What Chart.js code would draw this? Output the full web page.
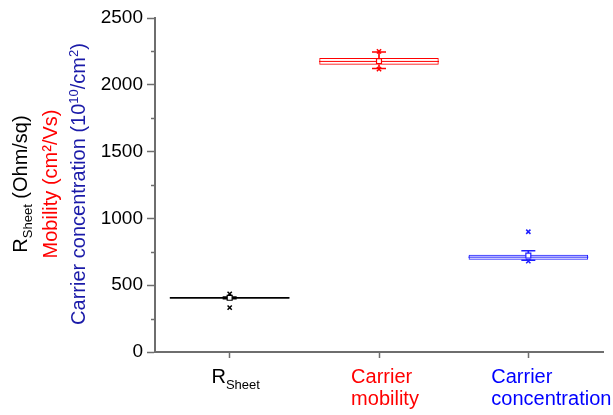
<!DOCTYPE html>
<html>
<head>
<meta charset="utf-8">
<script src="https://cdn.jsdelivr.net/npm/chart.js@4"></script>
<style>
html,body{margin:0;padding:0;background:#fff;}
#wrap{width:613px;height:415px;position:relative;}
</style>
</head>
<body>
<div id="wrap"><canvas id="c" width="613" height="415"></canvas></div>
<script>
// ---- data ----
const categories = ['R_Sheet', 'Carrier mobility', 'Carrier concentration'];
const whiskerLow  = [399, 2122, 686];
const q1          = [399, 2150, 690];
const median      = [405, 2175, 710];
const q3          = [411, 2200, 728];
const whiskerHigh = [411, 2245, 757];
const mean        = [406, 2178, 722];
const pointHigh   = [435, 2250, 900];
const pointLow    = [332, 2118, 680];
const seriesColors = ['#000000', '#ff0000', '#1f1fff'];
const labelColors  = ['#000000', '#ff0000', '#0000ff'];
const yTicks = [0, 500, 1000, 1500, 2000, 2500];

const FONT = '"Liberation Sans", Arial, sans-serif';

function drawRich(ctx, parts, x, y) {
  let pos = x;
  for (const p of parts) {
    ctx.font = p[1] + 'px ' + FONT;
    ctx.fillText(p[0], pos, y + p[2]);
    pos += ctx.measureText(p[0]).width;
  }
}
function richWidth(ctx, parts) {
  let w = 0;
  for (const p of parts) { ctx.font = p[1] + 'px ' + FONT; w += ctx.measureText(p[0]).width; }
  return w;
}

const yTitleLines = [
  {color: '#000000', parts: [['R', 20, 0], ['Sheet', 13, 5], [' (Ohm/sq)', 20, 0]]},
  {color: '#ff0000', parts: [['Mobility (cm\u00B2/Vs)', 20, 0]]},
  {color: '#1a1aa8', parts: [['Carrier concentration (10', 20, 0], ['10', 13, -7], ['/cm', 20, 0], ['2', 13, -7], [')', 20, 0]]}
];
const xLabelLines = [
  [[['R', 20, 0], ['Sheet', 13, 6]]],
  [[['Carrier', 20, 0]], [['mobility', 20, 0]]],
  [[['Carrier', 20, 0]], [['concentration', 20, 0]]]
];
const xLabelShift = [6, 6, 23];

const decor = {
  id: 'decor',
  afterDraw(chart) {
    const ctx = chart.ctx;
    const ya = chart.scales.y, xa = chart.scales.x;
    const area = chart.chartArea;
    ctx.save();
    // minor ticks
    ctx.strokeStyle = '#6e6e6e';
    ctx.lineWidth = 1.5;
    for (let i = 0; i < yTicks.length - 1; i++) {
      const v = (yTicks[i] + yTicks[i + 1]) / 2;
      const py = Math.round(ya.getPixelForValue(v)) + 0.5;
      ctx.beginPath(); ctx.moveTo(area.left - 4, py); ctx.lineTo(area.left, py); ctx.stroke();
    }
    // y title (rotated, three colours)
    ctx.textBaseline = 'alphabetic';
    ctx.textAlign = 'left';
    const baselines = [27, 57, 85];
    const cy = (area.top + area.bottom) / 2 - 1;
    yTitleLines.forEach((ln, i) => {
      ctx.save();
      ctx.translate(baselines[i], cy);
      ctx.rotate(-Math.PI / 2);
      ctx.fillStyle = ln.color;
      const w = richWidth(ctx, ln.parts);
      drawRich(ctx, ln.parts, -w / 2, 0);
      ctx.restore();
    });
    // x labels
    xLabelLines.forEach((lines, i) => {
      const px = xa.getPixelForValue(i);
      let bw = 0;
      lines.forEach(l => { bw = Math.max(bw, richWidth(ctx, l)); });
      const left = px - bw / 2 + xLabelShift[i];
      ctx.fillStyle = labelColors[i];
      lines.forEach((l, k) => drawRich(ctx, l, left, 383 + k * 22));
    });
    ctx.restore();
  }
};

const boxData = q1.map((v, i) => [v, q3[i]]);
const lowStem = whiskerLow.map((v, i) => [v, q1[i]]);
const highStem = whiskerHigh.map((v, i) => [q3[i], v]);

new Chart(document.getElementById('c'), {
  type: 'bar',
  data: {
    labels: categories,
    datasets: [
      {label: 'box', data: boxData, grouped: false, categoryPercentage: 1, barPercentage: 0.8,
       backgroundColor: 'rgba(255,255,255,0)', borderColor: seriesColors, borderWidth: 1, borderSkipped: false, order: 5},
      {label: 'stemLow', data: lowStem, grouped: false, barThickness: 1, backgroundColor: seriesColors, borderWidth: 0, order: 5},
      {label: 'stemHigh', data: highStem, grouped: false, barThickness: 1, backgroundColor: seriesColors, borderWidth: 0, order: 5},
      {type: 'line', label: 'median', data: median, showLine: false, pointStyle: 'line', pointRadius: 60,
       pointBorderColor: seriesColors, pointBorderWidth: 1, order: 1},
      {type: 'line', label: 'capLow', data: whiskerLow, showLine: false, pointStyle: 'line', pointRadius: 7,
       pointBorderColor: seriesColors, pointBorderWidth: 1.5, order: 1},
      {type: 'line', label: 'capHigh', data: whiskerHigh, showLine: false, pointStyle: 'line', pointRadius: 7,
       pointBorderColor: seriesColors, pointBorderWidth: 1.5, order: 1},
      {type: 'line', label: 'mean', data: mean, showLine: false, pointStyle: 'rect', pointRadius: 3.5,
       pointBackgroundColor: '#ffffff', pointBorderColor: seriesColors, pointBorderWidth: 1.2, order: 0},
      {type: 'line', label: 'high', data: pointHigh, showLine: false, pointStyle: 'crossRot', pointRadius: 3,
       pointBorderColor: seriesColors, pointBorderWidth: 1.5, order: 0},
      {type: 'line', label: 'low', data: pointLow, showLine: false, pointStyle: 'crossRot', pointRadius: 3,
       pointBorderColor: seriesColors, pointBorderWidth: 1.5, order: 0}
    ]
  },
  options: {
    responsive: false,
    animation: false,
    devicePixelRatio: 1,
    layout: {autoPadding: false, padding: {top: 18, right: 10, left: 0, bottom: 0}},
    plugins: {legend: {display: false}, tooltip: {enabled: false}},
    scales: {
      x: {
        offset: true,
        grid: {offset: false, drawOnChartArea: false, drawTicks: true, tickLength: 6, tickColor: '#6e6e6e', tickWidth: 1.5},
        border: {display: true, color: '#6e6e6e', width: 2},
        ticks: {callback: () => '', font: {size: 20, family: FONT}},
        afterFit(s) { s.height = 63; }
      },
      y: {
        min: 0, max: 2500,
        afterBuildTicks(s) { s.ticks = yTicks.map(v => ({value: v})); },
        grid: {drawOnChartArea: false, drawTicks: true, tickLength: 8, tickColor: '#6e6e6e', tickWidth: 1.5},
        border: {display: true, color: '#6e6e6e', width: 2},
        ticks: {color: '#000000', padding: 4, font: {size: 19, family: FONT}, callback: v => String(v)},
        afterFit(s) { s.width = 155; }
      }
    }
  },
  plugins: [decor]
});
</script>
</body>
</html>
